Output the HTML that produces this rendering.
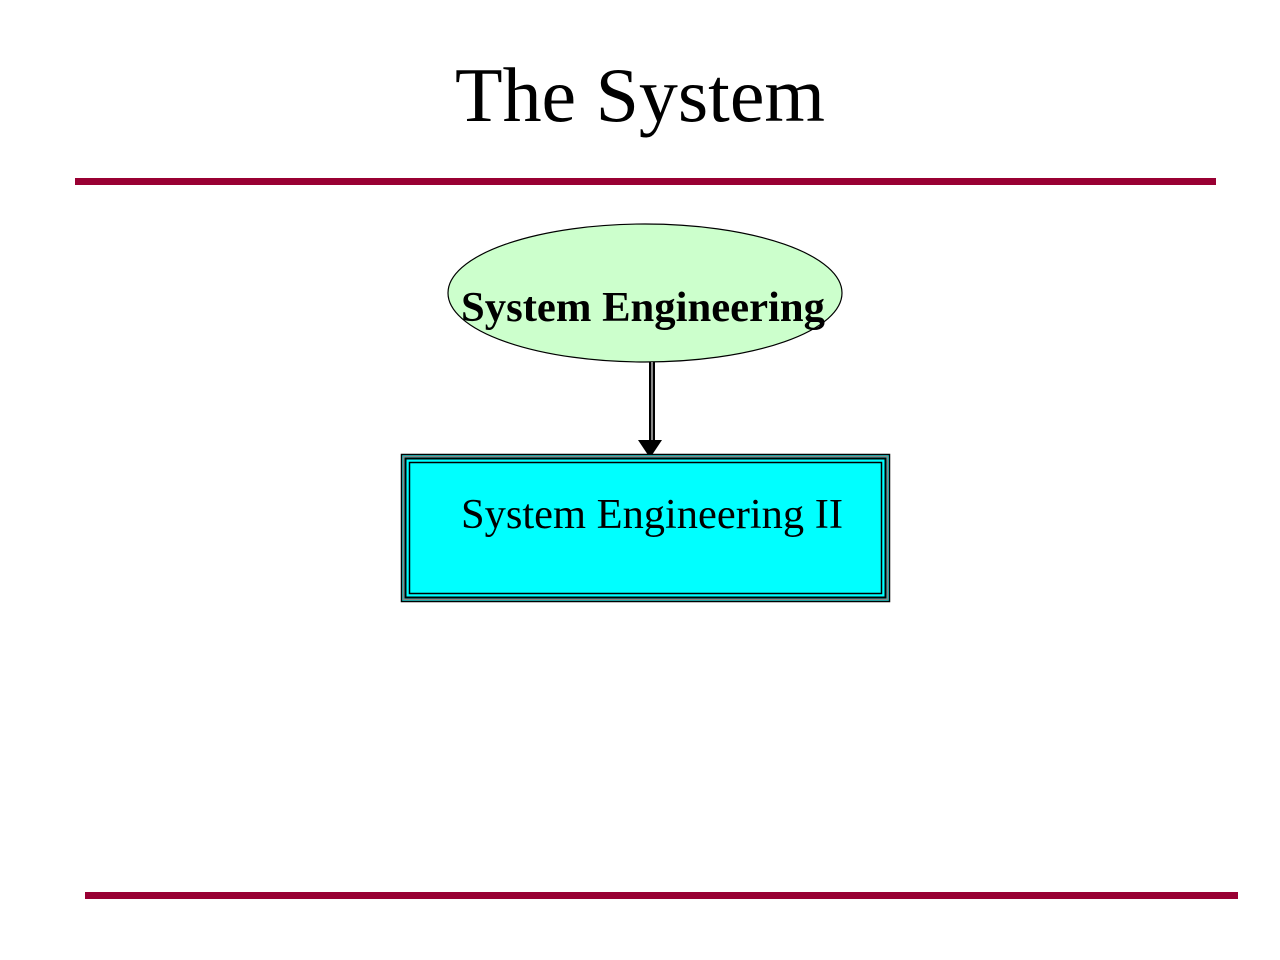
<!DOCTYPE html>
<html><head><style>
html,body{margin:0;padding:0;background:#fff;}
body{width:1280px;height:960px;position:relative;overflow:hidden;font-family:"Liberation Serif",serif;}
</style></head><body>
<svg width="1280" height="960" xmlns="http://www.w3.org/2000/svg" style="position:absolute;left:0;top:0">
<text x="455" y="121" textLength="370" lengthAdjust="spacingAndGlyphs" font-family="Liberation Serif, serif" font-size="77">The System</text>
<rect x="75" y="178" width="1141" height="7" fill="#990033"/>
<rect x="85" y="892" width="1153" height="7" fill="#990033"/>
<ellipse cx="645" cy="293" rx="197" ry="69" fill="#ccffcc" stroke="#000" stroke-width="1.2"/>
<text x="461" y="321" textLength="364" lengthAdjust="spacingAndGlyphs" font-family="Liberation Serif, serif" font-weight="bold" font-size="42">System Engineering</text>
<rect x="649" y="362" width="6" height="80" fill="#000"/>
<rect x="651" y="362" width="2" height="80" fill="#888"/>
<polygon points="638,440 662,440 650,458" fill="#000"/>
<rect x="401.5" y="454.5" width="488" height="147" fill="#00ffff" stroke="#000" stroke-width="1.5"/>
<rect x="403.5" y="456.5" width="484" height="143" fill="none" stroke="#888" stroke-width="1.5"/>
<rect x="405.5" y="458.5" width="480" height="139" fill="none" stroke="#000" stroke-width="2"/>
<rect x="409.5" y="462.5" width="472" height="131" fill="none" stroke="#000" stroke-width="1.5"/>
<text x="461" y="528" textLength="382" lengthAdjust="spacingAndGlyphs" font-family="Liberation Serif, serif" font-size="42">System Engineering II</text>
</svg>
</body></html>
